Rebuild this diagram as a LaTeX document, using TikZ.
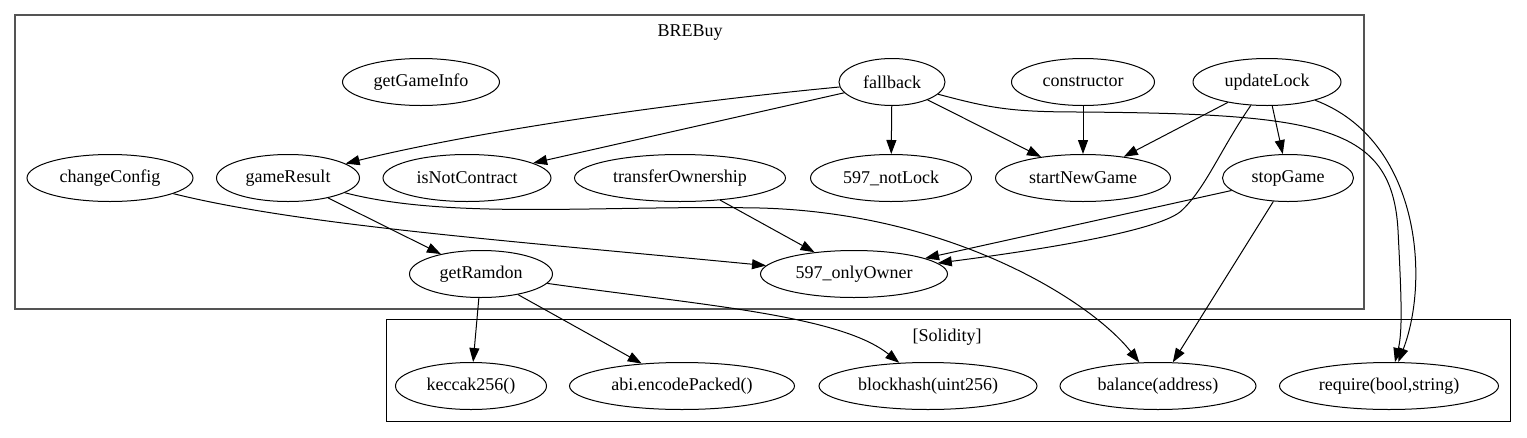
\documentclass[tikz,border=0pt]{standalone}
\usepackage{fontspec}
\setmainfont{Liberation Serif}
\newfontfamily\dotfont{Liberation Serif}
\usetikzlibrary{shapes.geometric,arrows.meta}
\begin{document}
\begin{tikzpicture}[x=1pt,y=-1pt,
  fn/.style={ellipse,draw,line width=1pt,inner sep=0pt,minimum height=47pt,font=\dotfont\fontsize{18}{20}\selectfont},
  e/.style={-{Triangle[length=14pt,width=10pt]},line width=1pt},
  lbl/.style={font=\dotfont\fontsize{18}{20}\selectfont},
  frameA/.style={draw=black!67,line width=2pt},
  frameB/.style={draw=black,line width=1pt}]
\useasboundingbox (0,0) rectangle (1527,437);
\draw[frameA] (15,15) rectangle (1364,309);
\draw[frameB] (386,319) rectangle (1510,421);
\node[lbl] (tB) at (690,33) {BREBuy};
\node[lbl] (tS) at (947,337) {[Solidity]};
% BREBuy nodes
\node[fn,minimum width=157pt] (gGI) at (421,82) {getGameInfo};
\node[fn,minimum width=106pt] (fb) at (892,82) {fallback};
\node[fn,minimum width=143pt] (ctor) at (1083,82) {constructor};
\node[fn,minimum width=148pt] (uL) at (1267,82) {updateLock};
\node[fn,minimum width=166pt] (cC) at (110,178) {changeConfig};
\node[fn,minimum width=143pt] (gR) at (288,178) {gameResult};
\node[fn,minimum width=168pt] (iNC) at (467,178) {isNotContract};
\node[fn,minimum width=211pt] (tO) at (680,178) {transferOwnership};
\node[fn,minimum width=161pt] (nL) at (891,178) {597\_notLock};
\node[fn,minimum width=175pt] (sNG) at (1083,178) {startNewGame};
\node[fn,minimum width=131pt] (sG) at (1288,178) {stopGame};
\node[fn,minimum width=143pt] (gRd) at (481,274) {getRamdon};
\node[fn,minimum width=187pt] (oO) at (854,274) {597\_onlyOwner};
% Solidity nodes
\node[fn,minimum width=151pt] (kec) at (471,386) {keccak256()};
\node[fn,minimum width=225pt] (abi) at (682,386) {abi.encodePacked()};
\node[fn,minimum width=218pt] (bh) at (928,386) {blockhash(uint256)};
\node[fn,minimum width=196pt] (bal) at (1158,386) {balance(address)};
\node[fn,minimum width=219pt] (req) at (1389,386) {require(bool,string)};
% edges
\draw[e] (fb) .. controls (650,105) and (460,135) .. (gR);
\draw[e] (fb) -- (iNC);
\draw[e] (fb) -- (nL);
\draw[e] (fb) -- (sNG);
\draw[e] (fb) .. controls (990,108) and (1010,112) .. (1080,112) .. controls (1320,114) and (1392,125) .. (1398,230) .. controls (1401,290) and (1403,330) .. (req);
\draw[e] (ctor) -- (sNG);
\draw[e] (uL) -- (sNG);
\draw[e] (uL) -- (sG);
\draw[e] (uL) .. controls (1220,150) and (1205,190) .. (1180,212) .. controls (1150,235) and (1000,255) .. (oO);
\draw[e] (uL) .. controls (1420,140) and (1430,280) .. (req);
\draw[e] (sG) -- (oO);
\draw[e] (sG) -- (bal);
\draw[e] (tO) -- (oO);
\draw[e] (cC) .. controls (300,225) and (500,240) .. (oO);
\draw[e] (gR) -- (gRd);
\draw[e] (gR) .. controls (450,220) and (600,205) .. (760,208) .. controls (950,213) and (1090,300) .. (bal);
\draw[e] (gRd) -- (kec);
\draw[e] (gRd) -- (abi);
\draw[e] (gRd) .. controls (700,305) and (840,315) .. (bh);
\end{tikzpicture}
\end{document}
